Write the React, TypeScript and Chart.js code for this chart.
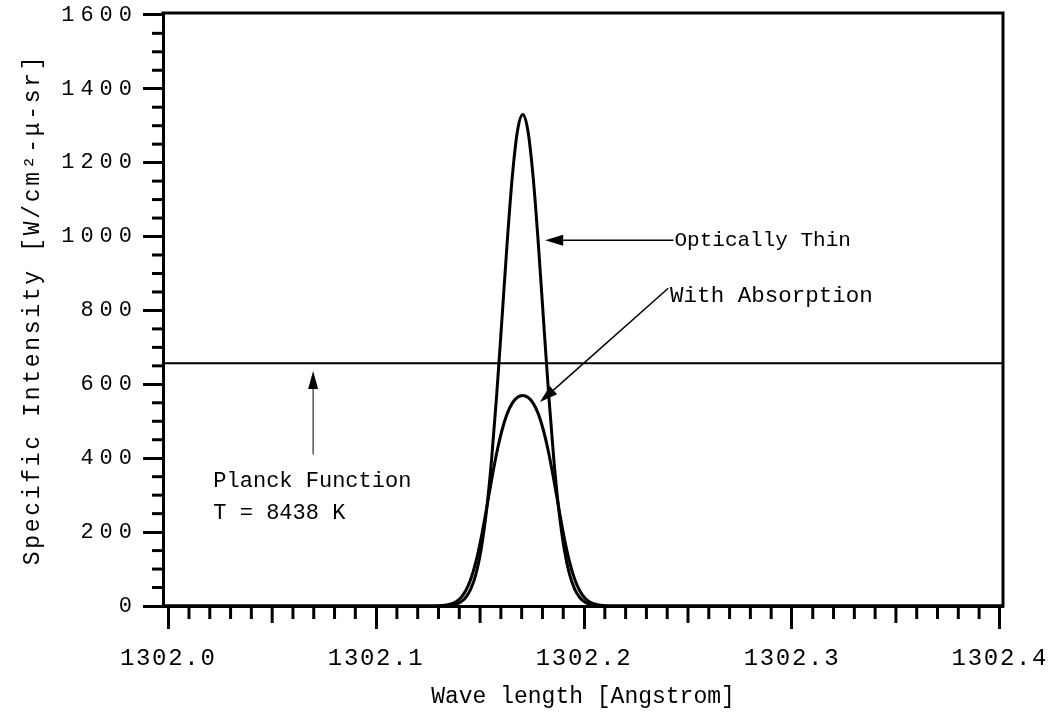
import React, { useEffect, useRef } from "react";
import { Chart, registerables } from "chart.js";

Chart.register(...registerables);

// ---- data ----
const WAVELENGTH = [
  1301.9975,
  1302.1205, 1302.123, 1302.1255, 1302.128, 1302.1305, 1302.133, 1302.1355, 1302.138,
  1302.1405, 1302.143, 1302.1455, 1302.148, 1302.1505, 1302.153, 1302.1555, 1302.158,
  1302.1605, 1302.163, 1302.1655, 1302.168, 1302.1705, 1302.173, 1302.1755, 1302.178,
  1302.1805, 1302.183, 1302.1855, 1302.188, 1302.1905, 1302.193, 1302.1955, 1302.198,
  1302.2005, 1302.203, 1302.2055, 1302.208, 1302.2105, 1302.213, 1302.2155, 1302.218,
  1302.2205,
  1302.4015,
];

const OPTICALLY_THIN = [
  0,
  0, 0.01, 0.02, 0.08, 0.25, 0.7, 1.8, 4.4,
  10.3, 22.4, 45.4, 86.3, 153.2, 254.3, 394.3, 571.8,
  774.9, 981.5, 1162, 1286, 1330, 1286, 1162, 981.5,
  774.9, 571.8, 394.3, 254.3, 153.2, 86.3, 45.4, 22.4,
  10.3, 4.4, 1.8, 0.7, 0.25, 0.08, 0.02, 0.01,
  0,
  0,
];

const WITH_ABSORPTION = [
  0,
  0.01, 0.03, 0.1, 0.3, 0.8, 2.0, 4.6, 10.2,
  21.0, 40.5, 72.5, 120.0, 184.0, 260.0, 340.0, 414.0,
  475.0, 520.0, 549.0, 565.0, 570.0, 565.0, 549.0, 520.0,
  475.0, 414.0, 340.0, 260.0, 184.0, 120.0, 72.5, 40.5,
  21.0, 10.2, 4.6, 2.0, 0.8, 0.3, 0.1, 0.03,
  0.01,
  0,
];

const PLANCK_X = [1301.9975, 1302.4015];
const PLANCK_VALUE = [657, 657];

const X_TICK_LABELS = ["1302.0", "1302.1", "1302.2", "1302.3", "1302.4"];
const Y_TICK_LABELS = ["0", "200", "400", "600", "800", "1000", "1200", "1400", "1600"];

const MONO = "'Liberation Mono', 'DejaVu Sans Mono', monospace";

function drawArrow(
  ctx: CanvasRenderingContext2D,
  x1: number, y1: number, x2: number, y2: number,
  headLen: number, headHalf: number, lw: number
) {
  const ang = Math.atan2(y2 - y1, x2 - x1);
  const bx = x2 - headLen * Math.cos(ang);
  const by = y2 - headLen * Math.sin(ang);
  ctx.lineWidth = lw;
  ctx.beginPath();
  ctx.moveTo(x1, y1);
  ctx.lineTo(bx, by);
  ctx.stroke();
  ctx.beginPath();
  ctx.moveTo(x2, y2);
  ctx.lineTo(bx + headHalf * Math.sin(ang), by - headHalf * Math.cos(ang));
  ctx.lineTo(bx - headHalf * Math.sin(ang), by + headHalf * Math.cos(ang));
  ctx.closePath();
  ctx.fill();
}

function withSpacing(s: any, method: string, spacing: string) {
  const key = "__patched_" + method;
  if (!s || s[key]) return;
  const orig = s[method];
  s[method] = function (...args: any[]) {
    const c = this.ctx;
    c.save();
    (c as any).letterSpacing = spacing;
    orig.apply(this, args);
    c.restore();
  };
  s[key] = true;
}

const decorPlugin = {
  id: "decor",
  beforeDraw(chart: any) {
    withSpacing(chart.scales.x, "drawLabels", "1.7px");
    withSpacing(chart.scales.y, "drawLabels", "6px");
    withSpacing(chart.scales.y, "drawTitle", "2.7px");
  },
  afterDraw(chart: any) {
    const ctx: CanvasRenderingContext2D = chart.ctx;
    const { left, right, top, bottom } = chart.chartArea;
    const xs = chart.scales.x;
    const ys = chart.scales.y;
    ctx.save();
    ctx.strokeStyle = "#000";
    ctx.fillStyle = "#000";
    ctx.lineCap = "butt";

    // frame top + right
    ctx.lineWidth = 3;
    ctx.beginPath();
    ctx.moveTo(left - 1.5, top);
    ctx.lineTo(right, top);
    ctx.lineTo(right, bottom + 1.5);
    ctx.stroke();

    // minor ticks
    ctx.lineWidth = 3;
    for (const t of xs.ticks) {
      const k = Math.round((t.value - 1302) * 100);
      if (k % 10 === 0) continue;
      const len = k % 5 === 0 ? 17 : 13;
      const px = xs.getPixelForValue(t.value);
      ctx.beginPath();
      ctx.moveTo(px, bottom);
      ctx.lineTo(px, bottom + len);
      ctx.stroke();
    }
    for (const t of ys.ticks) {
      if (Math.round(t.value) % 200 === 0) continue;
      const py = ys.getPixelForValue(t.value);
      ctx.beginPath();
      ctx.moveTo(left - 11, py);
      ctx.lineTo(left, py);
      ctx.stroke();
    }

    // annotations
    const X = (v: number) => xs.getPixelForValue(v);
    const Y = (v: number) => ys.getPixelForValue(v);
    ctx.textBaseline = "middle";
    ctx.textAlign = "left";

    // Optically Thin
    ctx.font = `21px ${MONO}`;
    drawArrow(ctx, X(1302.2430), Y(990), X(1302.1813), Y(990), 18, 5.5, 1.5);
    ctx.fillText("Optically Thin", X(1302.2435), Y(990));

    // With Absorption
    ctx.font = `22.5px ${MONO}`;
    drawArrow(ctx, X(1302.2405), Y(860), X(1302.1788), Y(552), 18, 5.5, 1.5);
    ctx.fillText("With Absorption", X(1302.2414), Y(840));

    // Planck Function
    drawArrow(ctx, X(1302.0697), Y(410), X(1302.0697), Y(636), 18, 5, 1);
    ctx.font = `22px ${MONO}`;
    ctx.fillText("Planck Function", X(1302.0217), Y(338));
    ctx.fillText("T = 8438 K", X(1302.0217), Y(252));
    ctx.restore();
  },
};

export default function App() {
  const ref = useRef<HTMLCanvasElement | null>(null);
  useEffect(() => {
    if (!ref.current) return;
    const pts = (xs: number[], ys: number[]) => xs.map((x, i) => ({ x, y: ys[i] }));
    const chart = new Chart(ref.current, {
      type: "scatter",
      data: {
        datasets: [
          {
            label: "Optically Thin",
            data: pts(WAVELENGTH, OPTICALLY_THIN),
            showLine: true,
            borderColor: "#000",
            borderWidth: 3,
            pointRadius: 0,
            cubicInterpolationMode: "monotone",
          },
          {
            label: "With Absorption",
            data: pts(WAVELENGTH, WITH_ABSORPTION),
            showLine: true,
            borderColor: "#000",
            borderWidth: 3,
            pointRadius: 0,
            cubicInterpolationMode: "monotone",
          },
          {
            label: "Planck Function",
            data: pts(PLANCK_X, PLANCK_VALUE),
            showLine: true,
            borderColor: "#000",
            borderWidth: 2,
            pointRadius: 0,
          },
        ],
      },
      options: {
        animation: false,
        responsive: false,
        devicePixelRatio: 1,
        layout: { padding: { top: 13, right: 51, bottom: 0, left: 0 } },
        plugins: { legend: { display: false }, tooltip: { enabled: false } },
        scales: {
          x: {
            type: "linear",
            min: 1301.9975,
            max: 1302.4015,
            afterBuildTicks: (s: any) => {
              s.ticks = Array.from({ length: 41 }, (_, i) => ({ value: 1302 + i / 100 }));
            },
            afterFit: (s: any) => {
              s.height = 107;
              s.paddingLeft = 0;
              s.paddingRight = 0;
            },
            ticks: {
              autoSkip: false,
              maxRotation: 0,
              minRotation: 0,
              color: "#000",
              padding: 15,
              font: { family: MONO, size: 24 },
              callback: (v: any) => {
                const k = Math.round((Number(v) - 1302) * 100);
                return k % 10 === 0 ? X_TICK_LABELS[k / 10] : "";
              },
            },
            grid: {
              drawOnChartArea: false,
              drawTicks: true,
              tickLength: 23,
              tickWidth: 3,
              tickColor: (c: any) =>
                c.tick && Math.round((c.tick.value - 1302) * 100) % 10 === 0 ? "#000" : "rgba(0,0,0,0)",
            },
            border: { display: true, color: "#000", width: 3 },
            title: {
              display: true,
              text: "Wave length [Angstrom]",
              color: "#000",
              font: { family: MONO, size: 23 },
              padding: { top: 0, bottom: 2 },
            },
          },
          y: {
            type: "linear",
            min: 0,
            max: 1605,
            afterBuildTicks: (s: any) => {
              s.ticks = Array.from({ length: 33 }, (_, i) => ({ value: i * 50 }));
            },
            afterFit: (s: any) => {
              s.width = 163;
              s.paddingTop = 0;
              s.paddingBottom = 0;
            },
            ticks: {
              autoSkip: false,
              color: "#000",
              padding: 5,
              font: { family: MONO, size: 22, lineHeight: 1 },
              callback: (v: any) => {
                const n = Math.round(Number(v));
                return n % 200 === 0 ? Y_TICK_LABELS[n / 200] : "";
              },
            },
            grid: {
              drawOnChartArea: false,
              drawTicks: true,
              tickLength: 20,
              tickWidth: 3,
              tickColor: (c: any) =>
                c.tick && Math.round(c.tick.value) % 200 === 0 ? "#000" : "rgba(0,0,0,0)",
            },
            border: { display: true, color: "#000", width: 3 },
            title: {
              display: true,
              text: "Specific Intensity [W/cm²-μ-sr]",
              color: "#000",
              font: { family: MONO, size: 23 },
              padding: { top: 19, bottom: 0 },
            },
          },
        },
      },
      plugins: [decorPlugin],
    } as any);
    return () => chart.destroy();
  }, []);

  return (
    <div style={{ position: "fixed", left: 0, top: 0, width: 1054, height: 713, background: "#fff" }}>
      <canvas ref={ref} width={1054} height={713} style={{ display: "block", width: 1054, height: 713 }} />
    </div>
  );
}
